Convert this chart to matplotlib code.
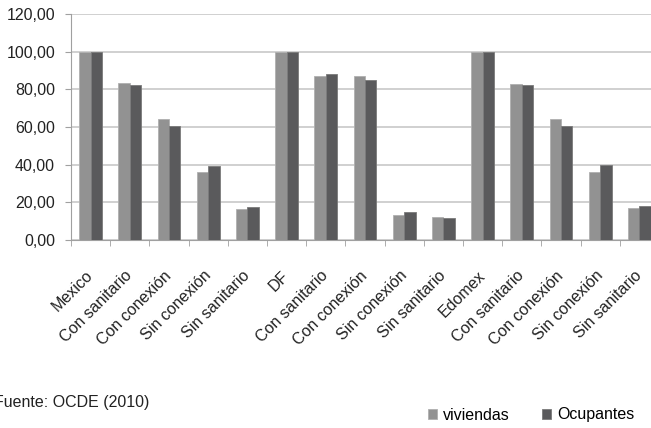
import numpy as np
import matplotlib.pyplot as plt

categorias = ['Mexico', 'Con sanitario', 'Con conexión', 'Sin conexión', 'Sin sanitario',
              'DF', 'Con sanitario', 'Con conexión', 'Sin conexión', 'Sin sanitario',
              'Edomex', 'Con sanitario', 'Con conexión', 'Sin conexión', 'Sin sanitario']
viviendas = [100.0, 83.2, 64.1, 36.3, 16.6,
             100.0, 87.3, 87.1, 13.1, 12.4,
             100.0, 82.7, 64.1, 36.1, 16.8]
ocupantes = [100.0, 82.3, 60.7, 39.5, 17.5,
             100.0, 88.3, 85.0, 15.0, 11.7,
             100.0, 82.2, 60.5, 39.8, 17.9]
yticks = [0, 20, 40, 60, 80, 100, 120]

plt.rcParams['font.family'] = ['Liberation Sans', 'DejaVu Sans']

fig = plt.figure(figsize=(6.51, 4.28), dpi=100)
# plot area runs a bit past the right edge of the picture, as in the original
ax = fig.add_axes([71 / 651, 1 - 240 / 428, 588 / 651, 226 / 428])

x = np.arange(len(categorias))
w = 0.29
ax.bar(x - w / 2, viviendas, w, color='#929292', edgecolor='#b0b0b0', linewidth=0.6,
       label='viviendas', zorder=3)
ax.bar(x + w / 2, ocupantes, w, color='#5a5a5c', edgecolor='#7a7a7a', linewidth=0.6,
       label='Ocupantes', zorder=3)

ax.set_xlim(-0.5, len(categorias) - 0.5)
ax.set_ylim(0, 120)
ax.set_yticks(yticks)
ax.set_yticklabels([f'{v:.2f}'.replace('.', ',') for v in yticks])
ax.yaxis.grid(True, color='#c8c8c8', linewidth=1.2, zorder=0)

ax.set_xticks(x)
ax.set_xticklabels(categorias, rotation=45, ha='right', va='center', rotation_mode='anchor')
ax.tick_params(axis='x', length=0, pad=24, labelsize=11.5, colors='#222222')
ax.set_xticks(np.arange(len(categorias) + 1) - 0.5, minor=True)
ax.tick_params(axis='x', which='minor', length=4, color='#a0a0a0')
ax.tick_params(axis='y', length=4, color='#a0a0a0', labelcolor='#222222', labelsize=11.5, pad=7.5)

for s in ['top', 'right']:
    ax.spines[s].set_visible(False)
ax.spines['left'].set_color('#a0a0a0')
ax.spines['bottom'].set_color('#a0a0a0')

fig.text(-6 / 651, 1 - 402 / 428, 'Fuente: OCDE (2010)', fontsize=11.5, color='#222222',
         va='center')
fig.legend(loc='center', bbox_to_anchor=(531 / 651, 1 - 415 / 428), ncol=2, frameon=False,
           fontsize=11.5, handlelength=0.6, handleheight=0.6, columnspacing=2.0,
           handletextpad=0.35, borderpad=0, borderaxespad=0)

fig.savefig('out.png', dpi=100)
